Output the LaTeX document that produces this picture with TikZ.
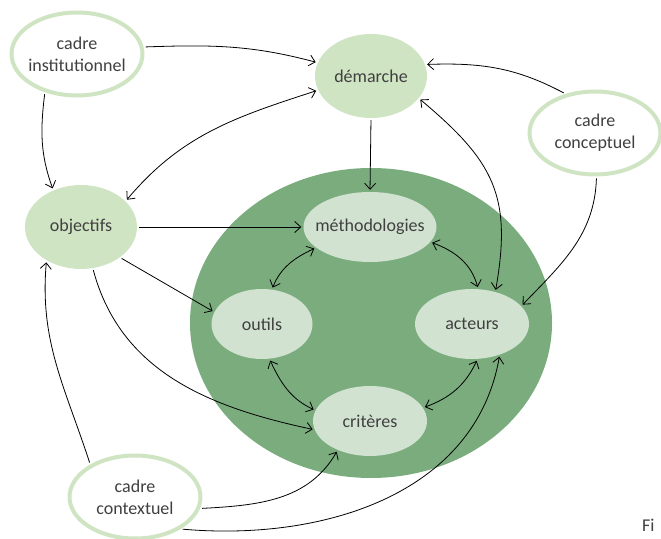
\documentclass[tikz,border=0pt]{standalone}
\usepackage{fontspec}
\setmainfont{Carlito}
\usepackage{xcolor}
\usetikzlibrary{arrows.meta,shapes.geometric}
\definecolor{darkgreen}{RGB}{122,172,125}
\definecolor{lightgreen}{RGB}{207,228,194}
\definecolor{palegreen}{RGB}{210,226,209}
\definecolor{textgray}{RGB}{64,64,64}
\tikzset{
    base-box/.style = {ellipse, inner xsep=-20pt, inner ysep=0pt, align=center, text=textgray, font=\fontsize{18}{22}\selectfont},
    cadre-box/.style = {base-box, draw=lightgreen, line width=4pt, fill=white, minimum width=131pt, minimum height=83pt},
    main-box/.style = {base-box, fill=lightgreen, minimum width=112pt, minimum height=84pt},
    inner-box/.style = {base-box, fill=palegreen, minimum height=70pt},
    link/.style = {-{Straight Barb[length=6pt,width=11pt]}, line width=0.8pt, shorten >=2pt, shorten <=2pt},
    both-link/.style = {link, {Straight Barb[length=6pt,width=11pt]}-{Straight Barb[length=6pt,width=11pt]}},
}

\begin{document}
\begin{tikzpicture}[x=1pt, y=1pt]
\useasboundingbox (0,0) rectangle (661,538);
\fill[darkgreen] (371,215) ellipse [x radius=181, y radius=155];

\node [cadre-box] (ci) at (77,484) {cadre\\institutionnel};
\node [cadre-box] (cc) at (595,405) {cadre\\conceptuel};
\node [cadre-box] (ctx) at (135,41) {cadre\\contextuel};
\node [main-box] (dem) at (371,462) {démarche};
\node [main-box] (obj) at (81,311) {objectifs};
\node [inner-box, minimum width=133pt] (meth) at (370,311) {méthodologies};
\node [inner-box, minimum width=101pt] (outils) at (262,214) {outils};
\node [inner-box, minimum width=114pt] (act) at (472,214) {acteurs};
\node [inner-box, minimum width=114pt] (crit) at (370,117) {critères};
\node [anchor=base west, text=textgray, font=\fontsize{18}{22}\selectfont, inner sep=0pt] (fig) at (642,7) {Fi};

\draw[link] (ci.6) to[out=2, in=165] (dem.166);
\draw[link] (ci.230) to[out=263, in=110] (obj.127);
\draw[both-link] (obj.30) to[out=50, in=198] (dem.195);
\draw[link] (cc.127) to[out=152, in=2] (dem.12);
\draw[link] (dem.south) -- (meth.north);
\draw[both-link] (dem.-25) to[out=-40, in=80, looseness=1.2] (act.54);
\draw[link] (cc.272) to[out=268, in=46] (act.20);
\draw[link] (obj.east) -- (meth.west);
\draw[link] (obj.-38) -- (outils.166);
\draw[link] (obj.-74) to[out=-75, in=168] (crit.189);
\draw[both-link] (outils.74) to[out=68, in=205] (meth.201);
\draw[both-link] (meth.-14) to[out=-20, in=105] (act.80);
\draw[both-link] (outils.-78) to[out=-65, in=155] (crit.169);
\draw[both-link] (act.-81) to[out=245, in=20] (crit.14);
\draw[link] (ctx.144) to[out=108, in=265] (obj.224);
\draw[link] (ctx.-10) to[out=3, in=240] (crit.222);
\draw[link] (ctx.-35) to[out=-5, in=260] (act.-48);
\end{tikzpicture}
\end{document}
